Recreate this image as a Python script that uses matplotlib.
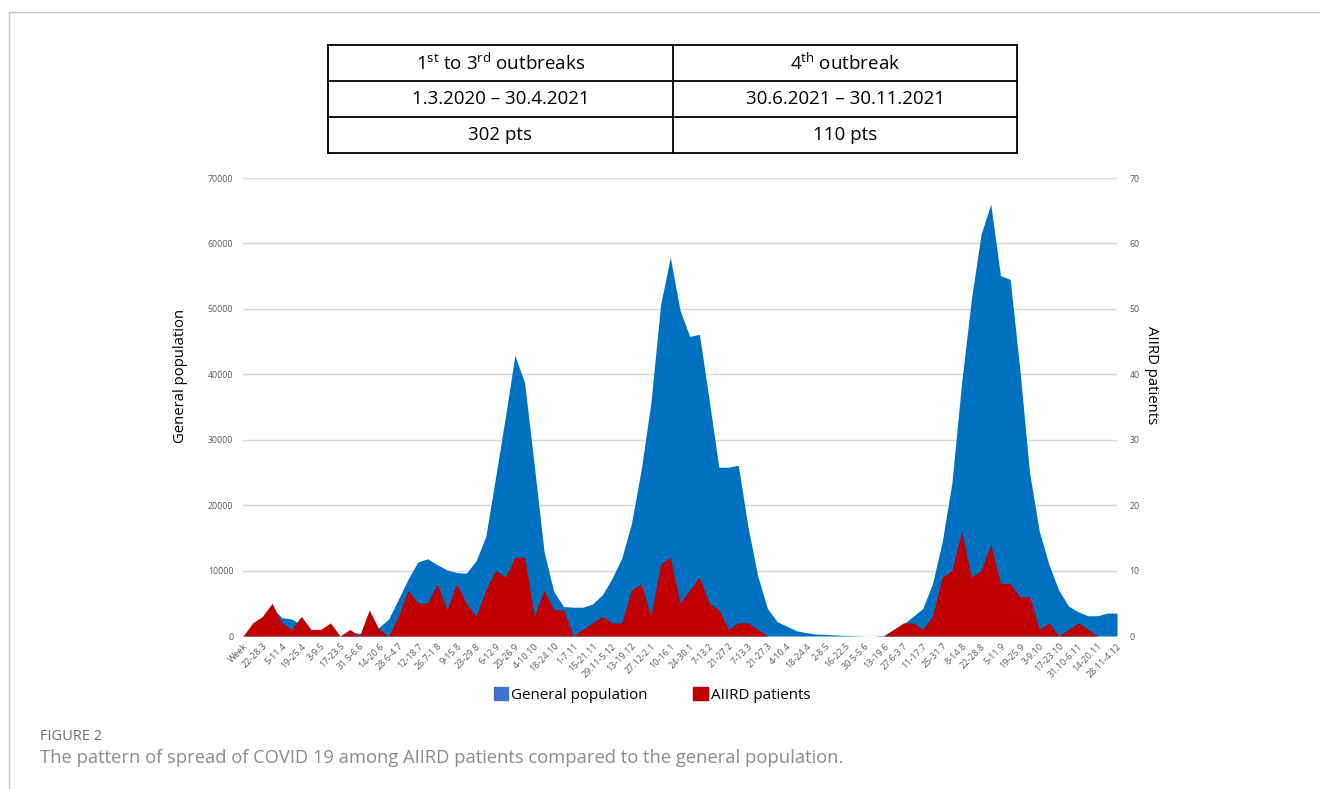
import matplotlib
matplotlib.use("Agg")
import matplotlib.pyplot as plt
from matplotlib.patches import Patch
from matplotlib.lines import Line2D
import numpy as np

week_labels = ["Week", "22-28.3", "5-11.4", "19-25.4", "3-9.5", "17-23.5", "31.5-6.6",
               "14-20.6", "28.6-4.7", "12-18.7", "26.7-1.8", "9-15.8", "23-29.8", "6-12.9",
               "20-26.9", "4-10.10", "18-24.10", "1-7.11", "15-21.11", "29.11-5.12",
               "13-19.12", "27.12-2.1", "10-16.1", "24-30.1", "7-13.2", "21-27.2", "7-13.3",
               "21-27.3", "4-10.4", "18-24.4", "2-8.5", "16-22.5", "30.5-5.6", "13-19.6",
               "27.6-3.7", "11-17.7", "25-31.7", "8-14.8", "22-28.8", "5-11.9", "19-25.9",
               "3-9.10", "17-23.10", "31.10-6.11", "14-20.11", "28.11-4.12"]

general_population = [
    0, 1500, 2500, 4300, 2800, 2600, 1800, 800, 700, 1000,
    0, 600, 400, 900, 1300, 2600, 5600, 8700, 11300, 11800,
    10900, 10100, 9700, 9600, 11500, 15200, 24200, 33300, 42900, 38700,
    26000, 12900, 6800, 4500, 4400, 4400, 4900, 6300, 8800, 11900,
    17200, 25400, 35600, 50600, 57900, 49800, 45800, 46100, 36100, 25800,
    25800, 26100, 16700, 9200, 4200, 2200, 1500, 800, 500, 300,
    250, 150, 100, 50, 0, 0, 100, 1000, 1800, 3000,
    4200, 8000, 14400, 23400, 38700, 51400, 61400, 66000, 55100, 54500,
    40700, 24900, 16000, 10900, 7000, 4600, 3700, 3100, 3100, 3500,
    3500]

aiird_patients = [
    0, 2, 3, 5, 2, 1, 3, 1, 1, 2,
    0, 1, 0, 4, 1, 0, 3, 7, 5, 5,
    8, 4, 8, 5, 3, 7, 10, 9, 12, 12,
    3, 7, 4, 4, 0, 1, 2, 3, 2, 2,
    7, 8, 3, 11, 12, 5, 7, 9, 5, 4,
    1, 2, 2, 1, 0, 0, 0, 0, 0, 0,
    0, 0, 0, 0, 0, 0, 0, 1, 2, 2,
    1, 3, 9, 10, 16, 9, 10, 14, 8, 8,
    6, 6, 1, 2, 0, 1, 2, 1, 0, 0,
    0]

left_ticks = [0, 10000, 20000, 30000, 40000, 50000, 60000, 70000]
right_ticks = [0, 10, 20, 30, 40, 50, 60, 70]

table_rows = [
    [r"1$^{\mathrm{st}}$ to 3$^{\mathrm{rd}}$ outbreaks", r"4$^{\mathrm{th}}$ outbreak"],
    ["1.3.2020 – 30.4.2021", "30.6.2021 – 30.11.2021"],
    ["302 pts", "110 pts"],
]

FONT = "Open Sans"
plt.rcParams["font.family"] = [FONT, "DejaVu Sans"]
plt.rcParams["mathtext.fontset"] = "custom"
plt.rcParams["mathtext.rm"] = FONT
plt.rcParams["mathtext.it"] = FONT
plt.rcParams["mathtext.bf"] = FONT

BLUE = "#0070C0"
RED = "#C00000"
TICK = "#595959"
W, H = 1320, 789

fig = plt.figure(figsize=(W / 100, H / 100), dpi=100)
fig.patch.set_facecolor("white")

def fx(px):
    return px / W

def fy(py):
    return 1 - py / H

ax_l, ax_b, ax_r, ax_t = 243, 636, 1117, 178
ax = fig.add_axes([fx(ax_l), fy(ax_b), fx(ax_r) - fx(ax_l), fy(ax_t) - fy(ax_b)])
x = np.arange(len(general_population))
ax.fill_between(x, 0, general_population, color=BLUE, linewidth=0)
ax.set_xlim(0, len(general_population) - 1)
ax.set_ylim(0, 70000)
ax.set_yticks(left_ticks)
ax.set_yticklabels([str(t) for t in left_ticks])
ax.grid(axis="y", color="#d9d9d9", linewidth=1)
ax.set_axisbelow(True)
for s in ax.spines.values():
    s.set_visible(False)
ax.tick_params(axis="y", length=0, labelsize=6.3, labelcolor=TICK, pad=7)
ax.set_xticks(x[::2])
ax.set_xticklabels(week_labels, rotation=45, ha="right", va="top",
                   rotation_mode="anchor", fontsize=6.5, color=TICK)
ax.tick_params(axis="x", length=0, pad=4)

def ax_frac_y(py):
    return (ax_b - py) / (ax_b - ax_t)

def ax_frac_x(px):
    return (px - ax_l) / (ax_r - ax_l)

ax.set_ylabel("General population", fontsize=10.7, color="black")
ax.yaxis.set_label_coords(ax_frac_x(188), ax_frac_y(376))

ax2 = ax.twinx()
ax2.fill_between(x, 0, aiird_patients, color=RED, linewidth=0)
ax2.set_ylim(0, 70)
ax2.set_yticks(right_ticks)
ax2.set_yticklabels([str(t) for t in right_ticks])
for s in ax2.spines.values():
    s.set_visible(False)
ax2.tick_params(axis="y", length=0, labelsize=6.3, labelcolor=TICK, pad=9)
ax2.set_ylabel("AIIRD patients", fontsize=10.7, color="black", rotation=270,
               va="center")
ax2.yaxis.set_label_coords(ax_frac_x(1152), ax_frac_y(375))

# legend
handles = [Patch(facecolor="#3F72CC", edgecolor="#3F72CC", label="General population"),
           Patch(facecolor=RED, edgecolor=RED, label="AIIRD patients")]
fig.legend(handles=handles, loc="center", bbox_to_anchor=(fx(652), fy(695)),
           ncol=2, frameon=False, fontsize=10.9, handlelength=0.95, handleheight=0.95,
           handletextpad=0.2, columnspacing=3.0)

# table
tx0, tx1, txm = 328, 1017, 673
ty = [45, 81, 117, 153]
lw = 1.3
for yy in ty:
    fig.add_artist(Line2D([fx(tx0), fx(tx1)], [fy(yy), fy(yy)], color="black", lw=lw))
for xx in (tx0, txm, tx1):
    fig.add_artist(Line2D([fx(xx), fx(xx)], [fy(ty[0]), fy(ty[-1])], color="black", lw=lw))
for r, row in enumerate(table_rows):
    yc = (ty[r] + ty[r + 1]) / 2
    for c, txt in enumerate(row):
        xc = (tx0 + txm) / 2 if c == 0 else (txm + tx1) / 2
        fig.text(fx(xc), fy(yc), txt, ha="center", va="center", fontsize=13.5,
                 color="black")

# frame
fig.add_artist(Line2D([fx(9), fx(9), fx(W)], [0, fy(11.5), fy(11.5)],
                      color="#c8c8c8", lw=1))

# caption
fig.text(fx(40), fy(737), "FIGURE 2", fontsize=10.5, color="#6f6f6f", va="center",
         ha="left")
fig.text(fx(40), fy(758), "The pattern of spread of COVID 19 among AIIRD patients "
         "compared to the general population.", fontsize=13.2, color="#8c8c8c",
         va="center", ha="left")

fig.savefig("out.png", dpi=100)
